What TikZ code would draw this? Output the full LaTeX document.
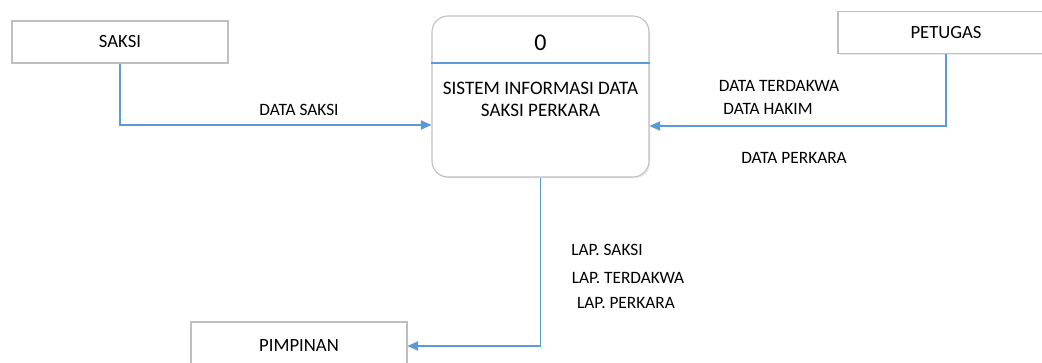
\documentclass[tikz,border=0pt]{standalone}
\usepackage{fontspec}
\setmainfont{Carlito}
\usepackage{xcolor}
\usetikzlibrary{arrows.meta,positioning,calc,shadows}
\definecolor{LN}{HTML}{5B9BD5}
\definecolor{BX}{HTML}{BFBFBF}

\tikzset{
  entity/.style={draw=BX, fill=white, line width=0.8pt,
    minimum width=162pt, minimum height=31.5pt,
    drop shadow={shadow xshift=1pt, shadow yshift=-1pt, opacity=0.15},
    font=\fontsize{14}{16}\selectfont},
  flow/.style={draw=LN, line width=1pt, -{Triangle[length=8pt,width=7pt]}},
  lbl/.style={font=\fontsize{13}{15}\selectfont, inner sep=0pt}
}

\begin{document}
\begin{tikzpicture}[x=0.75pt, y=-0.75pt]
  \clip (0,0) rectangle (1042,363);
  \fill[white] (0,0) rectangle (1042,363);

  % external entities
  \node[entity] (saksi) at (120,42) {SAKSI};
  \node[entity] (petugas) at (946,32.5) {PETUGAS};
  \node[entity, minimum height=36pt] (pimpinan) at (299,346) {PIMPINAN};

  % process
  \node[draw=BX, fill=white, line width=0.8pt, rounded corners=12pt,
        minimum width=162.75pt, minimum height=120.75pt,
        drop shadow={shadow xshift=1pt, shadow yshift=-1pt, opacity=0.15}]
        (proc) at (540.5,96.5) {};
  \draw[LN, line width=0.8pt] (proc.west |- 0,63) -- (proc.east |- 0,63);
  \node[font=\fontsize{18}{20}\selectfont] (procno) at (540.5,43) {0};
  \node[align=center, font=\fontsize{14.3}{16.5}\selectfont] (procname)
        at (540.5,99) {SISTEM INFORMASI DATA\\SAKSI PERKARA};

  % data flows
  \draw[flow] (saksi.south) |- (proc.west |- 0,125);
  \draw[flow] (petugas.south) |- (proc.east |- 0,126);
  \draw[flow] (proc.south) |- (pimpinan.east);

  % labels
  \node[lbl] (dsaksi) at (299,110) {DATA SAKSI};
  \node[lbl] (dterdakwa) at (779,86) {DATA TERDAKWA};
  \node[lbl] (dhakim) at (768,109) {DATA HAKIM};
  \node[lbl] (dperkara) at (794,158) {DATA PERKARA};
  \node[lbl] (lsaksi) at (607,250) {LAP. SAKSI};
  \node[lbl] (lterdakwa) at (628,278) {LAP. TERDAKWA};
  \node[lbl] (lperkara) at (626,303) {LAP. PERKARA};
\end{tikzpicture}
\end{document}
